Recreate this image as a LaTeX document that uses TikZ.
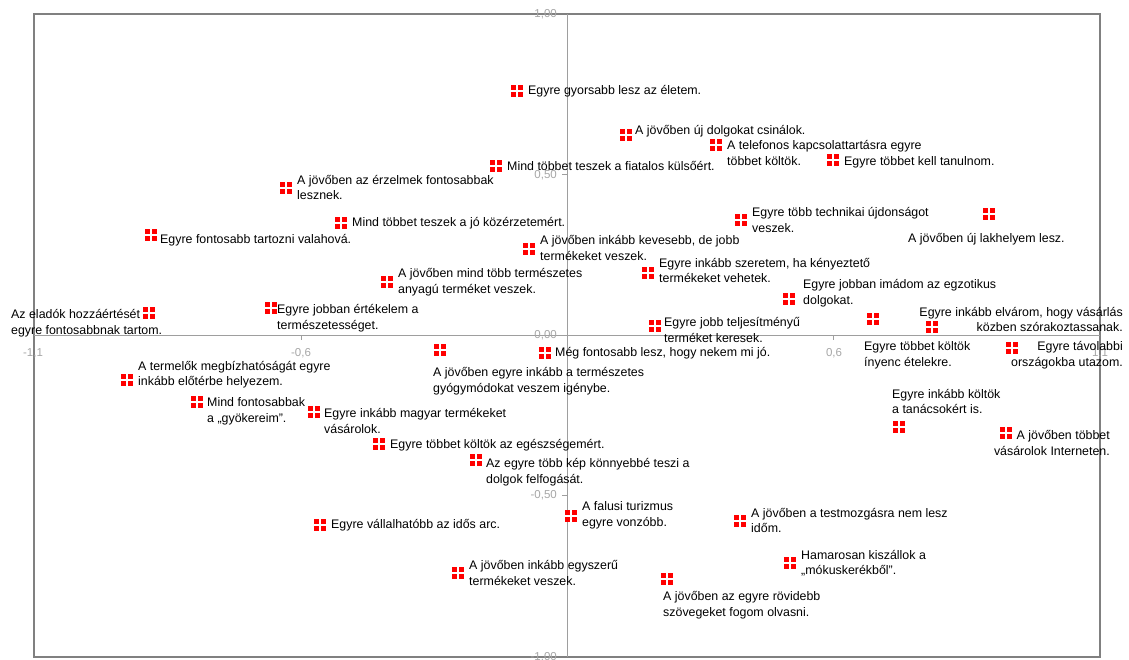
\documentclass[tikz,border=0pt]{standalone}
\usepackage{fontspec}
\setmainfont{Liberation Sans}
\usepackage{tikz}
\usetikzlibrary{positioning}
\tikzset{
    myframe/.style = {draw=black!50,line width=1.2pt},
    myaxis/.style = {draw=black!38,line width=1pt},
    mytick/.style = {font=\fontsize{11.5}{13}\selectfont,text=black!35,inner sep=0pt},
    mymark/.style = {rectangle,fill=red,minimum size=12pt,inner sep=0pt,
        path picture={\draw[white,line width=1.3pt]
            (path picture bounding box.north) -- (path picture bounding box.south)
            (path picture bounding box.west) -- (path picture bounding box.east);}},
    mytext/.style = {anchor=west,align=left,inner sep=0pt,font=\fontsize{12.4}{15.5}\selectfont},
    mytextr/.style = {anchor=east,align=right,inner sep=0pt,font=\fontsize{12.4}{15.5}\selectfont}
}
\begin{document}
\begin{tikzpicture}[x=1pt,y=-1pt]
\useasboundingbox (0,0) rectangle (1129,660);
\coordinate (nw) at (34,14);
\coordinate (se) at (1100,657);
\coordinate (xl) at (34,335);
\coordinate (xr) at (1100,335);
\coordinate (yt) at (567,14);
\coordinate (yb) at (567,657);
\draw[myframe] (nw) rectangle (se);
\draw[myaxis] (xl) -- (xr);
\draw[myaxis] (yt) -- (yb);
% ticks
\draw[myaxis] (301,335) -- (301,340) (833,335) -- (833,340);
\draw[myaxis] (562,175) -- (567,175) (562,335) -- (567,335) (562,495) -- (567,495);
\node[mytick,anchor=east] at (557,14) {1,00};
\node[mytick,anchor=east] at (557,175) {0,50};
\node[mytick,anchor=east] at (557,335) {0,00};
\node[mytick,anchor=east] at (557,495) {-0,50};
\node[mytick,anchor=east] at (557,657) {-1,00};
\node[mytick] at (33,353) {-1,1};
\node[mytick] at (301,353) {-0,6};
\node[mytick] at (834,353) {0,6};
\node[mytick] at (1100,353) {1,1};
%
\node[mymark] at (517,91) (p1) {};
\node[mytext] at (528,91) (t1) {Egyre gyorsabb lesz az életem.};
\node[mymark] at (626,135) (p2) {};
\node[mytext] at (635,131) (t2) {A jövőben új dolgokat csinálok.};
\node[mymark] at (716,145) (p3) {};
\node[mytext] at (727,153) (t3) {A telefonos kapcsolattartásra egyre\\többet költök.};
\node[mymark] at (833,160) (p4) {};
\node[mytext] at (844,162) (t4) {Egyre többet kell tanulnom.};
\node[mymark] at (496,166) (p5) {};
\node[mytext] at (507,166) (t5) {Mind többet teszek a fiatalos külsőért.};
\node[mymark] at (741,220) (p6) {};
\node[mytext] at (752,220) (t6) {Egyre több technikai újdonságot\\veszek.};
\node[mymark] at (529,249) (p7) {};
\node[mytext] at (540,248) (t7) {A jövőben inkább kevesebb, de jobb\\termékeket veszek.};
\node[mymark] at (648,273) (p8) {};
\node[mytext] at (659,270.5) (t8) {Egyre inkább szeretem, ha kényeztető\\termékeket vehetek.};
\node[mymark] at (989,214) (p9) {};
\node[mytext] at (908,239) (t9) {A jövőben új lakhelyem lesz.};
\node[mymark] at (286,188) (p10) {};
\node[mytext] at (297,187.5) (t10) {A jövőben az érzelmek fontosabbak\\lesznek.};
\node[mymark] at (341,223) (p11) {};
\node[mytext] at (352,223) (t11) {Mind többet teszek a jó közérzetemért.};
\node[mymark] at (151,235) (p12) {};
\node[mytext] at (160,240) (t12) {Egyre fontosabb tartozni valahová.};
\node[mymark] at (387,282) (p13) {};
\node[mytext] at (398,282) (t13) {A jövőben mind több természetes\\anyagú terméket veszek.};
\node[mymark] at (271,308) (p14) {};
\node[mytext] at (277,318) (t14) {Egyre jobban értékelem a\\természetességet.};
\node[mymark] at (149,313) (p15) {};
\node[mytext] at (11,323) (t15) {Az eladók hozzáértését\\egyre fontosabbnak tartom.};
\node[mymark] at (127,380) (p16) {};
\node[mytext] at (138,374.5) (t16) {A termelők megbízhatóságát egyre\\inkább előtérbe helyezem.};
\node[mymark] at (197,402) (p17) {};
\node[mytext] at (207,411.5) (t17) {Mind fontosabbak\\a „gyökereim”.};
\node[mymark] at (314,412) (p18) {};
\node[mytext] at (324,421) (t18) {Egyre inkább magyar termékeket\\vásárolok.};
\node[mymark] at (379,444) (p19) {};
\node[mytext] at (390,445) (t19) {Egyre többet költök az egészségemért.};
\node[mymark] at (476,460) (p20) {};
\node[mytext] at (486,472) (t20) {Az egyre több kép könnyebbé teszi a\\dolgok felfogását.};
\node[mymark] at (440,350) (p21) {};
\node[mytext] at (433,381) (t21) {A jövőben egyre inkább a természetes\\gyógymódokat veszem igénybe.};
\node[mymark] at (545,353) (p22) {};
\node[mytext] at (555,353) (t22) {Még fontosabb lesz, hogy nekem mi jó.};
\node[mymark] at (320,525) (p23) {};
\node[mytext] at (331,525) (t23) {Egyre vállalhatóbb az idős arc.};
\node[mymark] at (571,516) (p24) {};
\node[mytext] at (582,515.5) (t24) {A falusi turizmus\\egyre vonzóbb.};
\node[mymark] at (740,521) (p25) {};
\node[mytext] at (751,520.5) (t25) {A jövőben a testmozgásra nem lesz\\időm.};
\node[mymark] at (790,563) (p26) {};
\node[mytext] at (801,563) (t26) {Hamarosan kiszállok a\\„mókuskerékből”.};
\node[mymark] at (458,573) (p27) {};
\node[mytext] at (469,573) (t27) {A jövőben inkább egyszerű\\termékeket veszek.};
\node[mymark] at (667,579) (p28) {};
\node[mytext] at (663,605) (t28) {A jövőben az egyre rövidebb\\szövegeket fogom olvasni.};
\node[mymark] at (789,299) (p29) {};
\node[mytext] at (803,293) (t29) {Egyre jobban imádom az egzotikus\\dolgokat.};
\node[mymark] at (873,319) (p30) {};
\node[mytext] at (864,355.5) (t30) {Egyre többet költök\\ínyenc ételekre.};
\node[mymark] at (932,327) (p31) {};
\node[mytextr] at (1123,319.5) (t31) {Egyre inkább elvárom, hogy vásárlás\\közben szórakoztassanak.};
\node[mymark] at (1012,348) (p32) {};
\node[mytextr] at (1123,355) (t32) {Egyre távolabbi\\országokba utazom.};
\node[mymark] at (899,427) (p33) {};
\node[mytext] at (892,401.5) (t33) {Egyre inkább költök\\a tanácsokért is.};
\node[mymark] at (1006,433) (p34) {};
\node[mytextr] at (1110,443) (t34) {A jövőben többet\\vásárolok Interneten.};
\node[mymark] at (655,326) (p35) {};
\node[mytext] at (664,330) (t35) {Egyre jobb teljesítményű\\terméket keresek.};

\end{tikzpicture}
\end{document}
